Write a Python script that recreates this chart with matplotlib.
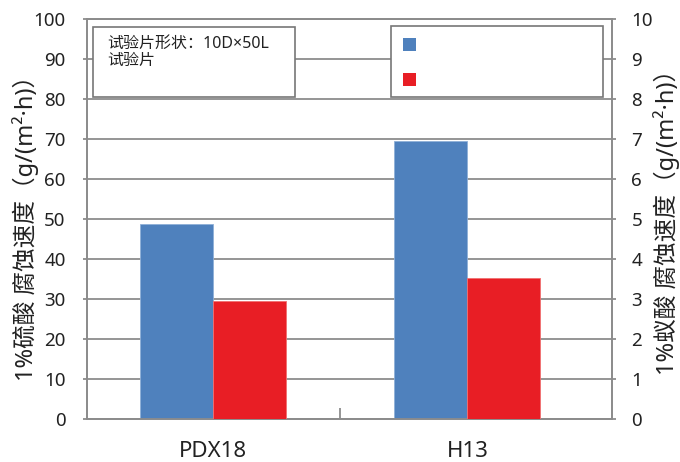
import matplotlib
matplotlib.use("Agg")
import matplotlib.pyplot as plt
from matplotlib.patches import Rectangle
import numpy as np

FONTS = ['Noto Sans', 'Noto Sans CJK SC', 'DejaVu Sans']
plt.rcParams['font.family'] = FONTS

categories = ["PDX18", "H13"]
sulfuric = [48.6, 69.4]   # left axis
formic = [2.95, 3.52]     # right axis
left_ticks = [0, 10, 20, 30, 40, 50, 60, 70, 80, 90, 100]
right_ticks = [0, 1, 2, 3, 4, 5, 6, 7, 8, 9, 10]
left_label = "1%硫酸 腐蚀速度（g/(m²·h)）"
right_label = "1%蚁酸 腐蚀速度（g/(m²·h)）"
box_text = "试验片形状：10D×50L\n试验片"

W, H = 680, 462
fig = plt.figure(figsize=(W / 100, H / 100), dpi=100)
L, R, T, B = 86.5, 612, 19, 418.5
ax = fig.add_axes([L / W, (H - B) / H, (R - L) / W, (B - T) / H])
ax2 = ax.twinx()

blue = "#4F81BD"
red = "#E81E25"
gcol = "#8c8c8c"
x = np.arange(len(categories))
bw = 0.287

ax.set_ylim(0, 100)
ax2.set_ylim(0, 10)
ax.set_xlim(-0.497, 1.568)
ax.set_yticks(left_ticks)
ax2.set_yticks(right_ticks)
ax.yaxis.grid(True, color=gcol, lw=1.3)
ax.set_axisbelow(True)

ax.bar(x - bw / 2, sulfuric, width=bw, color=blue, edgecolor="#8fb0d8", lw=0.6, zorder=3)
ax2.bar(x + bw / 2, formic, width=bw, color=red, edgecolor="#f07070", lw=0.6, zorder=3)

ax.set_xticks(x)
ax.set_xticklabels(categories, fontsize=16, color="#222222")
ax.tick_params(axis='x', length=0, pad=16)
ax.set_xticks([0.5], minor=True)
ax.tick_params(axis='x', which='minor', direction='in', length=8, width=1.3, color=gcol)

for a in (ax, ax2):
    for s in a.spines.values():
        s.set_color(gcol)
        s.set_linewidth(1.3)
ax.tick_params(axis='y', labelsize=13.5, labelcolor="#222222", length=3, color=gcol, width=1.3, pad=12)
ax2.tick_params(axis='y', labelsize=13.5, labelcolor="#222222", length=3, color=gcol, width=1.3, pad=11)

fig.text(26 / W, (H - 222) / H, left_label, rotation=90,
         ha='center', va='center', fontsize=17, color="#222222")
fig.text(667 / W, (H - 216) / H, right_label, rotation=90,
         ha='center', va='center', fontsize=17, color="#222222")

# text box
bx0, by0, bx1, by1 = 92.7, 27.3, 295, 97.3
fig.patches.append(Rectangle((bx0 / W, (H - by1) / H), (bx1 - bx0) / W, (by1 - by0) / H,
                             transform=fig.transFigure, facecolor="white",
                             edgecolor="#777777", lw=1.2, zorder=5))
fig.text(107 / W, (H - 36) / H, box_text, ha='left', va='top', fontsize=11.5,
         color="#222222", linespacing=1.1, zorder=6)

# legend box (no labels)
lx0, ly0, lx1, ly1 = 390.7, 26, 603, 96.7
fig.patches.append(Rectangle((lx0 / W, (H - ly1) / H), (lx1 - lx0) / W, (ly1 - ly0) / H,
                             transform=fig.transFigure, facecolor="white",
                             edgecolor="#777777", lw=1.2, zorder=5))
for col, yc in ((blue, 44.5), (red, 79.5)):
    fig.patches.append(Rectangle((403 / W, (H - yc - 6.5) / H), 13 / W, 13 / H,
                                 transform=fig.transFigure, facecolor=col,
                                 edgecolor='none', zorder=6))

fig.savefig("out.png", dpi=100)
